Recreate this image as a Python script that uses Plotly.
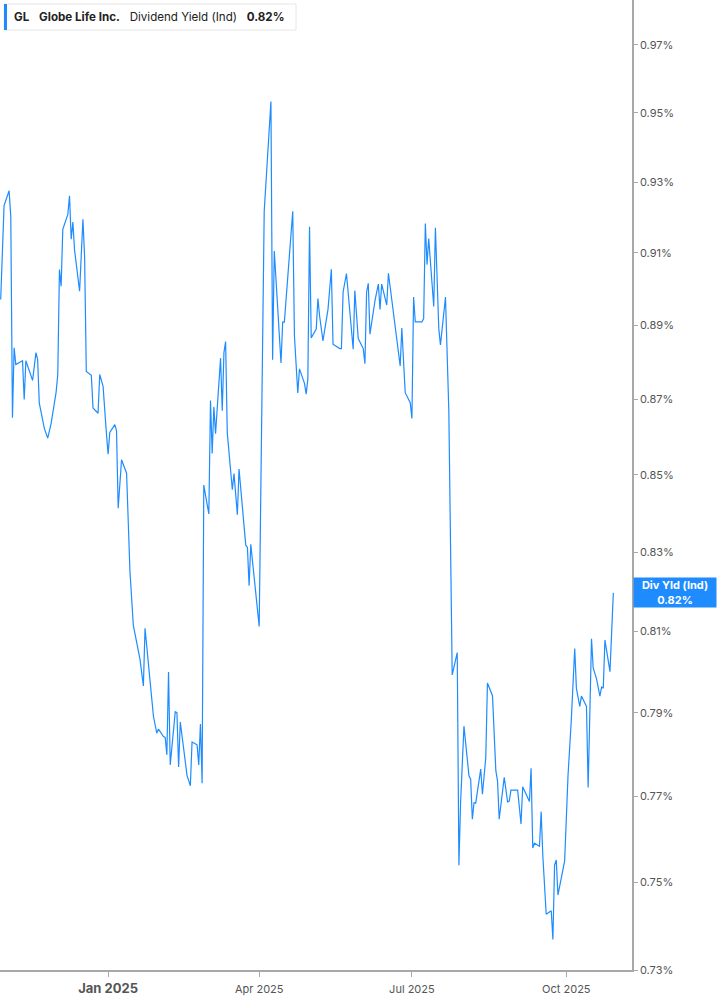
import numpy as np
import plotly.graph_objects as go

# GL dividend yield (indicated)
dates = [
    "2024-10-29", "2024-10-31", "2024-11-03", "2024-11-04", "2024-11-05", "2024-11-06", "2024-11-07",
    "2024-11-11", "2024-11-12", "2024-11-13", "2024-11-17", "2024-11-19", "2024-11-20", "2024-11-21",
    "2024-11-24", "2024-11-26", "2024-11-28", "2024-12-01", "2024-12-02", "2024-12-03", "2024-12-04",
    "2024-12-05", "2024-12-08", "2024-12-09", "2024-12-10", "2024-12-11", "2024-12-12", "2024-12-15",
    "2024-12-17", "2024-12-18", "2024-12-19", "2024-12-22", "2024-12-23", "2024-12-26", "2024-12-27",
    "2024-12-29", "2024-12-31", "2025-01-01", "2025-01-02", "2025-01-05", "2025-01-06", "2025-01-07",
    "2025-01-09", "2025-01-12", "2025-01-14", "2025-01-16", "2025-01-20", "2025-01-22", "2025-01-23",
    "2025-01-25", "2025-01-28", "2025-01-30", "2025-01-31", "2025-02-03", "2025-02-04", "2025-02-05",
    "2025-02-06", "2025-02-07", "2025-02-09", "2025-02-10", "2025-02-11", "2025-02-12", "2025-02-13",
    "2025-02-17", "2025-02-19", "2025-02-20", "2025-02-23", "2025-02-24", "2025-02-25", "2025-02-26",
    "2025-02-27", "2025-03-02", "2025-03-03", "2025-03-04", "2025-03-05", "2025-03-06", "2025-03-09",
    "2025-03-10", "2025-03-11", "2025-03-12", "2025-03-13", "2025-03-16", "2025-03-17", "2025-03-19",
    "2025-03-20", "2025-03-24", "2025-03-25", "2025-03-26", "2025-03-27", "2025-04-01", "2025-04-04",
    "2025-04-08", "2025-04-09", "2025-04-10", "2025-04-14", "2025-04-15", "2025-04-16", "2025-04-21",
    "2025-04-22", "2025-04-24", "2025-04-25", "2025-04-28", "2025-04-29", "2025-04-30", "2025-05-01",
    "2025-05-02", "2025-05-05", "2025-05-06", "2025-05-07", "2025-05-09", "2025-05-12", "2025-05-14",
    "2025-05-15", "2025-05-19", "2025-05-20", "2025-05-21", "2025-05-23", "2025-05-27", "2025-05-28",
    "2025-05-30", "2025-06-02", "2025-06-03", "2025-06-04", "2025-06-05", "2025-06-06", "2025-06-09",
    "2025-06-11", "2025-06-12", "2025-06-13", "2025-06-16", "2025-06-17", "2025-06-20", "2025-06-24",
    "2025-06-25", "2025-06-27", "2025-06-30", "2025-07-01", "2025-07-02", "2025-07-03", "2025-07-07",
    "2025-07-08", "2025-07-09", "2025-07-10", "2025-07-11", "2025-07-14", "2025-07-15", "2025-07-17",
    "2025-07-18", "2025-07-21", "2025-07-23", "2025-07-25", "2025-07-28", "2025-07-29", "2025-07-30",
    "2025-08-01", "2025-08-04", "2025-08-05", "2025-08-06", "2025-08-07", "2025-08-08", "2025-08-11",
    "2025-08-12", "2025-08-14", "2025-08-15", "2025-08-18", "2025-08-20", "2025-08-21", "2025-08-22",
    "2025-08-25", "2025-08-27", "2025-08-28", "2025-08-29", "2025-09-02", "2025-09-04", "2025-09-05",
    "2025-09-09", "2025-09-10", "2025-09-11", "2025-09-12", "2025-09-15", "2025-09-16", "2025-09-17",
    "2025-09-19", "2025-09-22", "2025-09-23", "2025-09-24", "2025-09-25", "2025-09-26", "2025-09-30",
    "2025-10-02", "2025-10-04", "2025-10-06", "2025-10-07", "2025-10-09", "2025-10-10", "2025-10-13",
    "2025-10-14", "2025-10-16", "2025-10-17", "2025-10-19", "2025-10-21", "2025-10-22", "2025-10-23",
    "2025-10-24", "2025-10-27", "2025-10-29",
]

div_yield = [
    0.8970, 0.9233, 0.9275, 0.9203, 0.8650, 0.8838, 0.8793,
    0.8803, 0.8699, 0.8803, 0.8750, 0.8825, 0.8806, 0.8689,
    0.8622, 0.8596, 0.8634, 0.8718, 0.8766, 0.9053, 0.9007,
    0.9166, 0.9208, 0.9261, 0.9138, 0.9186, 0.9108, 0.8993,
    0.9194, 0.9086, 0.8774, 0.8764, 0.8676, 0.8662, 0.8766,
    0.8734, 0.8608, 0.8554, 0.8611, 0.8632, 0.8616, 0.8413,
    0.8539, 0.8504, 0.8252, 0.8116, 0.8031, 0.7966, 0.8108,
    0.8021, 0.7892, 0.7851, 0.7861, 0.7843, 0.7841, 0.7799,
    0.8000, 0.7775, 0.7854, 0.7903, 0.7901, 0.7770, 0.7878,
    0.7750, 0.7725, 0.7830, 0.7823, 0.7775, 0.7873, 0.7731,
    0.8473, 0.8398, 0.8696, 0.8556, 0.8679, 0.8608, 0.8810,
    0.8669, 0.8825, 0.8855, 0.8610, 0.8461, 0.8503, 0.8396,
    0.8515, 0.8318, 0.8312, 0.8215, 0.8320, 0.8113, 0.9217,
    0.9533, 0.8806, 0.9105, 0.8797, 0.8908, 0.8908, 0.9217,
    0.8871, 0.8716, 0.8781, 0.8742, 0.8713, 0.8754, 0.9173,
    0.8865, 0.8889, 0.8973, 0.8925, 0.8857, 0.8943, 0.9054,
    0.8848, 0.8836, 0.8836, 0.8991, 0.9042, 0.8834, 0.8995,
    0.8863, 0.8836, 0.8795, 0.8991, 0.9015, 0.8875, 0.8967,
    0.9013, 0.8943, 0.9013, 0.8955, 0.9043, 0.8931, 0.8789,
    0.8892, 0.8717, 0.8690, 0.8648, 0.8977, 0.8909, 0.8909,
    0.8918, 0.9182, 0.9067, 0.9140, 0.8951, 0.9170, 0.8891,
    0.8846, 0.8977, 0.8667, 0.7993, 0.8048, 0.7539, 0.7685,
    0.7868, 0.7749, 0.7741, 0.7646, 0.7685, 0.7684, 0.7765,
    0.7705, 0.7792, 0.7973, 0.7942, 0.7761, 0.7737, 0.7646,
    0.7745, 0.7687, 0.7689, 0.7715, 0.7715, 0.7635, 0.7723,
    0.7688, 0.7767, 0.7579, 0.7590, 0.7583, 0.7664, 0.7561,
    0.7426, 0.7434, 0.7369, 0.7539, 0.7551, 0.7470, 0.7549,
    0.7749, 0.7886, 0.8058, 0.7960, 0.7916, 0.7941, 0.7916,
    0.7721, 0.8082, 0.8010, 0.7983, 0.7941, 0.7963, 0.7960,
    0.8079, 0.8001, 0.8197,
]

y_ticks = [0.73, 0.75, 0.77, 0.79, 0.81, 0.83, 0.85, 0.87, 0.89, 0.91, 0.93, 0.95, 0.97]
x_ticks = ["2025-01-01", "2025-04-01", "2025-07-01", "2025-10-01"]
x_tick_text = ["<b><span style='font-size:13px'>Jan 2025</span></b>", "Apr 2025", "Jul 2025", "Oct 2025"]

ticker = "GL"
company = "Globe Life Inc."
metric = "Dividend Yield (Ind)"
last_val = div_yield[-1]

BLUE = "#1e8cff"
W, H = 717, 1005
plot_w, plot_h = 632, 970

fig = go.Figure()
fig.add_trace(go.Scatter(
    x=dates, y=div_yield, mode="lines",
    line=dict(color=BLUE, width=1.2),
    hoverinfo="skip", showlegend=False,
))

fig.update_layout(
    width=W, height=H,
    margin=dict(l=0, r=W - plot_w, t=0, b=H - plot_h),
    paper_bgcolor="white", plot_bgcolor="white",
    font=dict(family="Inter, Roboto, sans-serif", color="#555"),
    xaxis=dict(
        type="date",
        range=["2024-10-28 14:00", "2025-11-09 03:00"],
        tickvals=x_ticks, ticktext=x_tick_text,
        showgrid=False, zeroline=False,
        showline=True, linecolor="#a8a8a8", linewidth=1.5,
        ticks="outside", ticklen=5, tickcolor="#a8a8a8",
        ticklabelstandoff=3,
        tickfont=dict(size=11, color="#555"),
    ),
    yaxis=dict(
        type="log", side="right",
        range=[np.log10(0.73), np.log10(0.9835)],
        tickvals=y_ticks, ticktext=[f"{v:.2f}%" for v in y_ticks],
        showgrid=False, zeroline=False,
        showline=True, linecolor="#a8a8a8", linewidth=1.5,
        ticks="outside", ticklen=4, tickcolor="#a8a8a8",
        tickfont=dict(size=11, color="#555"),
    ),
)

# header legend box
fig.add_shape(type="rect", xref="paper", yref="paper",
              x0=4 / plot_w, x1=296 / plot_w, y0=1 - 30 / plot_h, y1=1 - 4 / plot_h,
              line=dict(color="#e6e6e6", width=1), fillcolor="white", layer="above")
fig.add_shape(type="rect", xref="paper", yref="paper",
              x0=4 / plot_w, x1=7 / plot_w, y0=1 - 30 / plot_h, y1=1 - 4 / plot_h,
              line=dict(width=0), fillcolor=BLUE, layer="above")
fig.add_annotation(
    xref="paper", yref="paper", x=12 / plot_w, y=1 - 17 / plot_h,
    xanchor="left", yanchor="middle", showarrow=False,
    text=f"<b>{ticker}</b>\u00a0\u00a0\u00a0<b>{company}</b>\u00a0\u00a0\u00a0{metric}\u00a0\u00a0\u00a0<b>{last_val:.2f}%</b>",
    font=dict(size=11.6, color="#222"),
)

# last value tag on the y axis
fig.add_annotation(
    xref="paper", yref="y", x=1, y=np.log10(last_val),
    xanchor="left", yanchor="middle", xshift=1, showarrow=False,
    text=f"<b>Div Yld (Ind)</b><br><b>{last_val:.2f}%</b>",
    font=dict(size=11, color="white"),
    bgcolor=BLUE, width=80, height=27, borderpad=1, align="center",
)

# drop the default page margin so the chart sits flush with the window
fig.write_html("out.html", config={"displayModeBar": False},
               post_script="document.body.style.margin='0px';")
